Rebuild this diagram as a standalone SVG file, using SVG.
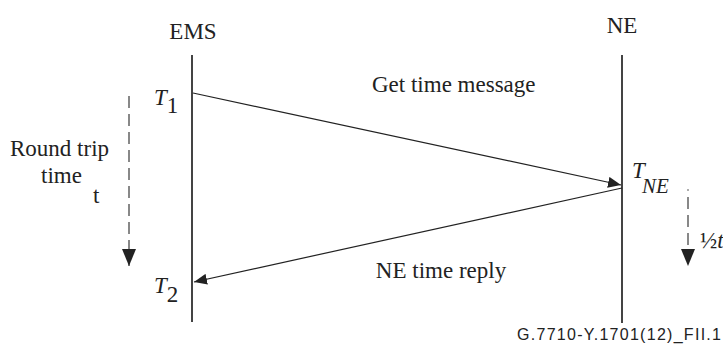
<svg xmlns="http://www.w3.org/2000/svg" width="723" height="345" viewBox="0 0 723 345">
<style>
.t{font-family:"Liberation Serif","Times New Roman",serif;fill:#222;font-size:23px}
.i{font-style:italic}
.life{stroke:#444;stroke-width:2;fill:none}
.msg{stroke:#222;stroke-width:1.2;fill:none}
.dash{stroke:#888;stroke-width:2;stroke-dasharray:12,6;fill:none}
</style>
<defs>
<marker id="ah" viewBox="0 0 13 11" refX="13" refY="5.5" markerWidth="13" markerHeight="11" markerUnits="userSpaceOnUse" orient="auto">
<path d="M0,0 L13,5.5 L0,11 Z" fill="#222"/>
</marker>
<marker id="dh" viewBox="0 0 14 17" refX="7" refY="17" markerWidth="14" markerHeight="17" markerUnits="userSpaceOnUse" orient="0">
<path d="M0,0 L14,0 L7,17 Z" fill="#222"/>
</marker>
</defs>
<g id="ems">
<text class="t" x="193" y="39" text-anchor="middle">EMS</text>
<line class="life" x1="192" y1="55" x2="192" y2="322"/>
<text class="t i" x="154" y="105">T<tspan font-style="normal" dy="8">1</tspan></text>
<text class="t i" x="154" y="293">T<tspan font-style="normal" dy="9">2</tspan></text>
</g>
<g id="ne">
<text class="t" x="622" y="33" text-anchor="middle">NE</text>
<line class="life" x1="622" y1="55" x2="622" y2="323"/>
<text class="t i" x="632" y="178">T<tspan x="642" dy="15" font-size="21">NE</tspan></text>
</g>
<g id="roundtrip">
<text class="t" x="10" y="156">Round trip</text>
<text class="t" x="41" y="183">time</text>
<text class="t" x="93" y="203">t</text>
</g>
<g id="half">
<circle cx="688" cy="190" r="0.8" fill="#444"/>
<text class="t" x="700" y="248">½<tspan class="i">t</tspan></text>
</g>
<g id="connectors">
<line class="msg" x1="193" y1="93" x2="621" y2="185" marker-end="url(#ah)"/>
<line class="msg" x1="622" y1="188" x2="194" y2="282" marker-end="url(#ah)"/>
<line class="dash" x1="129" y1="96" x2="129" y2="266" marker-end="url(#dh)"/>
<line class="dash" x1="688" y1="197" x2="688" y2="266" marker-end="url(#dh)"/>
</g>
<text class="t" x="372" y="92">Get time message</text>
<text class="t" x="441" y="278" text-anchor="middle">NE time reply</text>
<text x="517" y="340" font-family="Liberation Sans, Arial, sans-serif" font-size="16" textLength="204" lengthAdjust="spacing" fill="#222">G.7710-Y.1701(12)_FII.1</text>
</svg>
